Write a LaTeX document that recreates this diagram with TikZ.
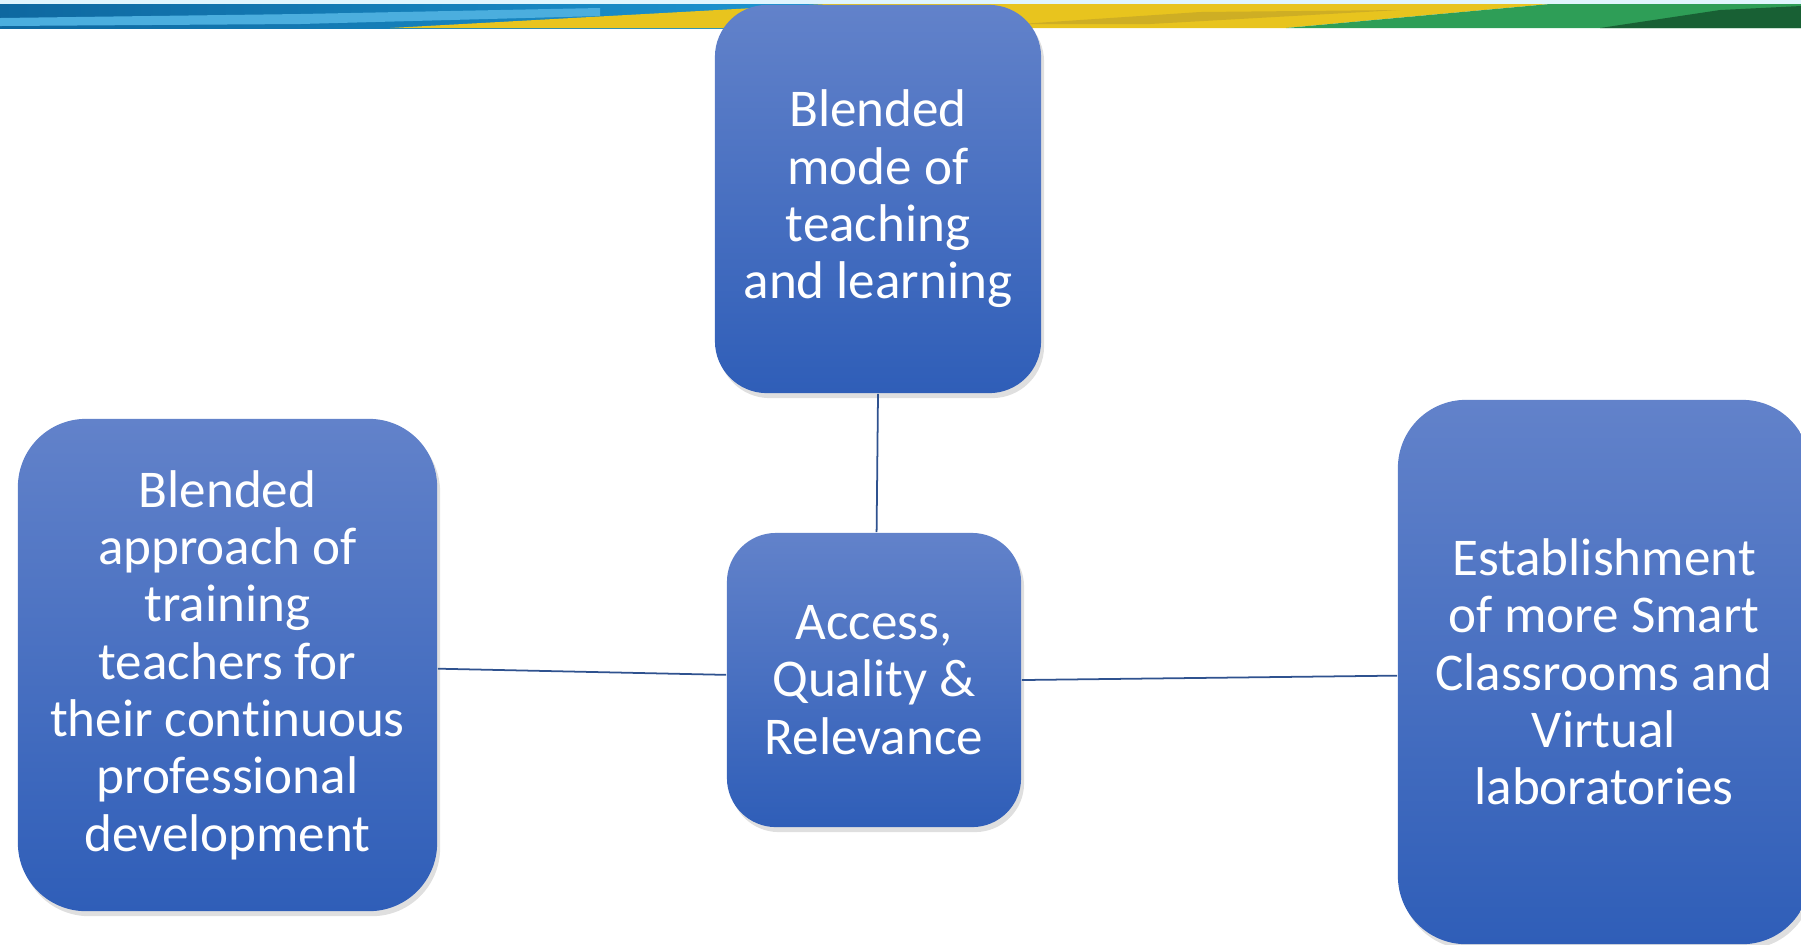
\documentclass[tikz,border=0pt]{standalone}
\usepackage{fontspec}
\setmainfont{Carlito}[Ligatures=NoCommon]
\usetikzlibrary{shadows}
\definecolor{boxtop}{RGB}{98,130,202}
\definecolor{boxbot}{RGB}{47,94,184}
\definecolor{linkblue}{RGB}{47,82,143}
\definecolor{flagblue}{RGB}{30,154,214}
\definecolor{flagdeep}{RGB}{14,104,160}
\definecolor{flagyellow}{RGB}{232,196,30}
\definecolor{flagolive}{RGB}{190,160,40}
\definecolor{flaggreen}{RGB}{46,158,87}
\definecolor{flagdark}{RGB}{24,96,52}

\tikzset{
  topic/.style={rectangle, top color=boxtop, bottom color=boxbot, text=white,
    align=center, inner sep=0pt, font=\fontsize{15.1}{16.3}\selectfont,
    drop shadow={shadow xshift=0.03cm, shadow yshift=-0.05cm, opacity=0.25}},
  link/.style={draw=linkblue, line width=0.5pt}
}

\begin{document}
\begin{tikzpicture}[x=0.01cm, y=-0.01cm]
    \useasboundingbox (0,0) rectangle (1801,944);
    \clip (0,0) rectangle (1801,944);

    % flag stripe along the top
    \fill [cyan!12] (0,0) rectangle (1801,4);
    \shade [left color=flagdeep, right color=flagblue] (0,4) rectangle (900,28);
    \fill [flagblue!80] (0,18) -- (300,14) -- (600,8) -- (600,16) -- (300,24) -- (0,26) -- cycle;
    \fill [flagyellow] (390,28) -- (827,4) -- (1550,4) -- (1286,28) -- cycle;
    \fill [flagolive, opacity=0.6] (1020,24) -- (1200,12) -- (1400,10) -- (1150,24) -- cycle;
    \fill [flaggreen] (1286,28) -- (1550,4) -- (1801,4) -- (1801,28) -- cycle;
    \fill [flagdark] (1600,28) -- (1720,10) -- (1801,6) -- (1801,28) -- cycle;

    \node [topic, minimum width=3.26cm, minimum height=3.88cm, rounded corners=0.52cm]
      (mode) at (878,199) {Blended\\mode of\\teaching\\and learning};
    \node [topic, minimum width=4.19cm, minimum height=4.92cm, rounded corners=0.68cm]
      (train) at (227.5,665) {Blended\\approach of\\training\\teachers for\\their continuous\\professional\\development};
    \node [topic, minimum width=2.94cm, minimum height=2.94cm, rounded corners=0.49cm]
      (aqr) at (874,680) {Access,\\Quality \&\\Relevance};
    \node [topic, minimum width=4.12cm, minimum height=5.44cm, rounded corners=0.68cm]
      (smart) at (1604,672) {Establishment\\of more Smart\\Classrooms and\\Virtual\\laboratories};

    \draw [link] (mode.-90.6) -- (aqr.89.6);
    \draw [link] (train.-1.4) -- (aqr.178.7);
    \draw [link] (aqr.0.4) -- (smart.-179.4);
\end{tikzpicture}
\end{document}
